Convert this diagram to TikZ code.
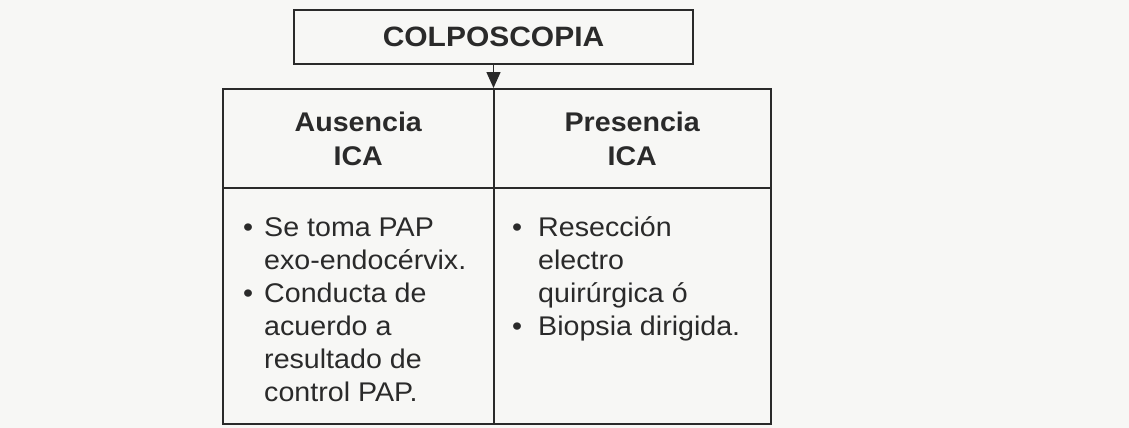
\documentclass[tikz,border=0pt]{standalone}
\usepackage{fontspec}
\setmainfont{Liberation Sans}
\newfontfamily\titlefont[FakeStretch=1.07]{Liberation Sans}
\newfontfamily\cellfont[FakeStretch=1.06]{Liberation Sans}
\usetikzlibrary{arrows.meta,positioning}
\definecolor{ink}{HTML}{2A2A2A}
\definecolor{paper}{HTML}{F7F7F5}

\begin{document}
\begin{tikzpicture}[x=1pt, y=-1pt,
	box/.style={draw=ink, line width=1.5pt, inner sep=0pt, anchor=north west},
	headtxt/.style={text=ink, font=\cellfont\bfseries\fontsize{27}{34}\selectfont, align=center},
	listtxt/.style={text=ink, font=\cellfont\fontsize{27}{33}\selectfont, inner sep=0pt, anchor=base west},
	flow/.style={draw=ink, line width=1.5pt, -{Triangle[width=14pt,length=16pt]}}]

	\fill[paper] (0,0) rectangle (1129,428);

	% title box
	\node[box, anchor=center, minimum width=399pt, minimum height=54pt,
		text=ink, font=\titlefont\bfseries\fontsize{28}{34}\selectfont] (colpo) at (493.5,37) {COLPOSCOPIA};

	% table cells
	\node[box, minimum width=271pt, minimum height=99pt] (headL) at (222,88) {};
	\node[box, minimum width=277pt, minimum height=99pt] (headR) at (493,88) {};
	\node[box, minimum width=271pt, minimum height=236pt] (bodyL) at (222,187) {};
	\node[box, minimum width=277pt, minimum height=236pt] (bodyR) at (493,187) {};

	\draw[flow] (colpo.south) -- (colpo.south |- headL.north);

	\node[headtxt] (ausencia) at ([yshift=-1pt]headL) {Ausencia\\ICA};
	\node[headtxt] (presencia) at ([yshift=-1pt]headR) {Presencia\\ICA};

	\node[listtxt] (listL) at ([xshift=21pt, yshift=-49pt]bodyL.north west) {%
		\begin{tabular}[t]{@{}l@{\hspace{11pt}}l@{}}
			\textbullet & Se toma PAP\\
			& exo-endocérvix.\\
			\textbullet & Conducta de\\
			& acuerdo a\\
			& resultado de\\
			& control PAP.
		\end{tabular}};
	\node[listtxt] (listR) at ([xshift=19pt, yshift=-49pt]bodyR.north west) {%
		\begin{tabular}[t]{@{}l@{\hspace{16pt}}l@{}}
			\textbullet & Resección\\
			& electro\\
			& quirúrgica ó\\
			\textbullet & Biopsia dirigida.
		\end{tabular}};

\end{tikzpicture}
\end{document}
